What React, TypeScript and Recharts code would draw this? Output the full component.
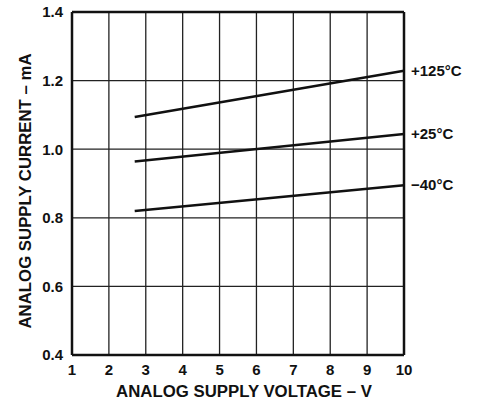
import React from 'react';
import { LineChart, Line, XAxis, YAxis, CartesianGrid, ReferenceLine } from 'recharts';

const voltages = [2.7, 10];
const current125 = [1.094, 1.229];
const current25 = [0.964, 1.044];
const currentM40 = [0.82, 0.895];
const seriesNames = ['+125°C', '+25°C', '\u221240°C'];
const xTicks = [1, 2, 3, 4, 5, 6, 7, 8, 9, 10];
const yTicks = [0.4, 0.6, 0.8, 1.0, 1.2, 1.4];

const data = voltages.map((v, i) => ({
  v,
  c125: current125[i],
  c25: current25[i],
  cm40: currentM40[i],
}));

const FONT = 'Liberation Sans, Arial, Helvetica, sans-serif';

const endLabel = (name: string) => (props: any) => {
  const { x, y, index } = props;
  if (index !== voltages.length - 1) return null;
  return (
    <text x={x + 7} y={y + 5} fontFamily={FONT} fontWeight="bold" fontSize={15} fill="#111">
      {name}
    </text>
  );
};

export default function App() {
  return (
    <div style={{ position: 'absolute', left: 0, top: 0, width: 482, height: 401, background: '#fff' }}>
      <LineChart width={482} height={401} data={data} margin={{ top: 12, right: 78, bottom: 0, left: 0 }}>
        <CartesianGrid stroke="#222" strokeWidth={1.3} horizontal vertical />
        <XAxis
          dataKey="v"
          type="number"
          domain={[1, 10]}
          ticks={xTicks}
          height={46}
          tickSize={0}
          tickMargin={9}
          axisLine={{ stroke: '#111', strokeWidth: 2.5 }}
          tick={{ fontFamily: FONT, fontWeight: 'bold', fontSize: 15, fill: '#111' }}
          label={{
            content: () => (
              <text x={244} y={397} textAnchor="middle" fontFamily={FONT} fontWeight="bold" fontSize={16.8} fill="#111">
                ANALOG SUPPLY VOLTAGE – V
              </text>
            ),
          }}
        />
        <YAxis
          type="number"
          domain={[0.4, 1.4]}
          ticks={yTicks}
          width={72}
          tickSize={0}
          tickMargin={9}
          axisLine={{ stroke: '#111', strokeWidth: 2.5 }}
          tickFormatter={(t: number) => t.toFixed(1)}
          tick={{ fontFamily: FONT, fontWeight: 'bold', fontSize: 15, fill: '#111' }}
          label={{
            content: () => (
              <text
                x={31}
                y={191}
                transform="rotate(-90 31 191)"
                textAnchor="middle"
                fontFamily={FONT}
                fontWeight="bold"
                fontSize={16.8}
                fill="#111"
              >
                ANALOG SUPPLY CURRENT – mA
              </text>
            ),
          }}
        />
        <ReferenceLine y={1.4} stroke="#111" strokeWidth={2.5} />
        <ReferenceLine x={10} stroke="#111" strokeWidth={2.5} />
        <Line dataKey="c125" stroke="#111" strokeWidth={2.5} dot={false} isAnimationActive={false} label={endLabel(seriesNames[0])} />
        <Line dataKey="c25" stroke="#111" strokeWidth={2.5} dot={false} isAnimationActive={false} label={endLabel(seriesNames[1])} />
        <Line dataKey="cm40" stroke="#111" strokeWidth={2.5} dot={false} isAnimationActive={false} label={endLabel(seriesNames[2])} />
      </LineChart>
    </div>
  );
}
